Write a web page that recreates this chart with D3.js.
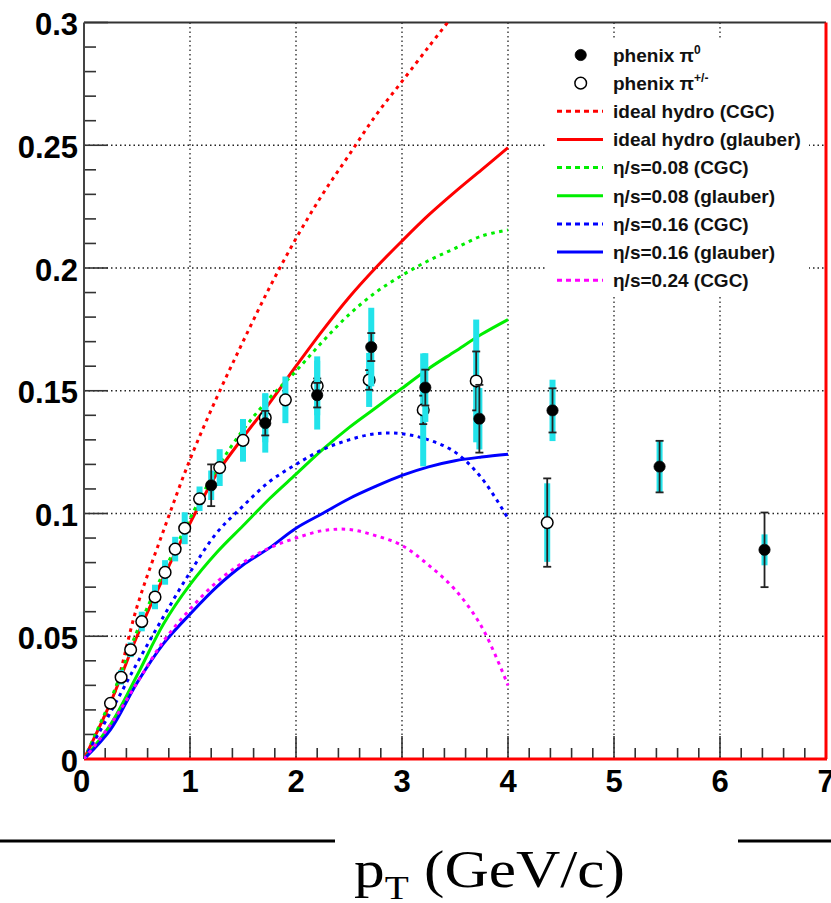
<!DOCTYPE html>
<html>
<head>
<meta charset="utf-8">
<script src="https://cdn.jsdelivr.net/npm/d3@7"></script>
<style>
  html, body { margin: 0; padding: 0; background: #fff; }
  svg { display: block; }
</style>
</head>
<body>
<svg id="chart" width="831" height="903"></svg>
<script>
// ---- model curves: v2 vs pT ----
const ptGrid = [0, 0.25, 0.5, 0.75, 1.0, 1.25, 1.5, 1.75, 2.0, 2.25, 2.5, 2.75, 3.0, 3.25, 3.5, 3.75, 4.0];
const idealCgcPt = [0, 0.25, 0.5, 0.75, 1.0, 1.25, 1.5, 1.75, 2.0, 2.25, 2.5, 2.75, 3.0, 3.25, 3.43];
const idealCgc     = [0, 0.022, 0.062, 0.093, 0.122, 0.147, 0.170, 0.192, 0.212, 0.230, 0.246, 0.262, 0.276, 0.290, 0.300];
const idealGlauber = [0, 0.023, 0.050, 0.074, 0.096, 0.116, 0.131, 0.145, 0.160, 0.1745, 0.188, 0.200, 0.211, 0.2215, 0.231, 0.240, 0.249];
const visc08Cgc    = [0, 0.024, 0.052, 0.076, 0.098, 0.118, 0.134, 0.147, 0.158, 0.170, 0.181, 0.190, 0.197, 0.203, 0.208, 0.213, 0.2155];
const visc08Gla    = [0, 0.014, 0.034, 0.055, 0.071, 0.084, 0.095, 0.106, 0.116, 0.126, 0.135, 0.143, 0.151, 0.159, 0.166, 0.173, 0.179];
const visc16Cgc    = [0, 0.019, 0.039, 0.058, 0.076, 0.092, 0.103, 0.113, 0.120, 0.126, 0.130, 0.1325, 0.1325, 0.130, 0.125, 0.1145, 0.098];
const visc16Gla    = [0, 0.012, 0.031, 0.047, 0.059, 0.070, 0.079, 0.086, 0.094, 0.100, 0.106, 0.111, 0.1155, 0.119, 0.1215, 0.123, 0.1241];
const visc24Cgc    = [0, 0.014, 0.031, 0.048, 0.061, 0.072, 0.080, 0.086, 0.090, 0.093, 0.0935, 0.091, 0.087, 0.079, 0.069, 0.054, 0.030];

// ---- PHENIX pi0 ----
const pi0Pt   = [1.20, 1.71, 2.20, 2.71, 3.22, 3.73, 4.42, 5.43, 6.42];
const pi0V2   = [0.1115, 0.1368, 0.1482, 0.1678, 0.1513, 0.1386, 0.1420, 0.1191, 0.0852];
const pi0Stat = [0.0085, 0.0050, 0.0050, 0.0057, 0.0073, 0.0138, 0.0090, 0.0105, 0.0152];
const pi0Sys  = [0.0060, 0.0120, 0.0140, 0.0160, 0.0140, 0.0125, 0.0125, 0.0105, 0.0063];

// ---- PHENIX pi+/- ----
const pipmPt   = [0.25, 0.35, 0.44, 0.545, 0.67, 0.765, 0.86, 0.95, 1.09, 1.28, 1.50, 1.71, 1.90, 2.20, 2.69, 3.20, 3.70, 4.37];
const pipmV2   = [0.0227, 0.0333, 0.0445, 0.056, 0.066, 0.076, 0.0855, 0.094, 0.106, 0.1187, 0.1298, 0.139, 0.1463, 0.152, 0.1544, 0.1422, 0.154, 0.0963];
const pipmStat = [0.0005, 0.0005, 0.0005, 0.0005, 0.0005, 0.0005, 0.0005, 0.0005, 0.001, 0.001, 0.001, 0.0015, 0.002, 0.003, 0.004, 0.0058, 0.012, 0.018];
const pipmSys  = [0.002, 0.003, 0.003, 0.004, 0.005, 0.005, 0.005, 0.0065, 0.005, 0.0075, 0.0087, 0.010, 0.0095, 0.012, 0.011, 0.023, 0.025, 0.016];

// ---- axis ticks ----
const xTickLabels = ["0", "1", "2", "3", "4", "5", "6", "7"];
const yTickLabels = ["0", "0.05", "0.1", "0.15", "0.2", "0.25", "0.3"];

const legendLabels = [
  {type: "filled", text: "phenix π", sup: "0"},
  {type: "open", text: "phenix π", sup: "+/-"},
  {type: "line", text: "ideal hydro (CGC)", color: "#ff0000", dash: true},
  {type: "line", text: "ideal hydro (glauber)", color: "#ff0000", dash: false},
  {type: "line", text: "η/s=0.08 (CGC)", color: "#00ee00", dash: true},
  {type: "line", text: "η/s=0.08 (glauber)", color: "#00ee00", dash: false},
  {type: "line", text: "η/s=0.16 (CGC)", color: "#0000ff", dash: true},
  {type: "line", text: "η/s=0.16 (glauber)", color: "#0000ff", dash: false},
  {type: "line", text: "η/s=0.24 (CGC)", color: "#ff00ff", dash: true}
];

const curves = [
  {pt: idealCgcPt, v: idealCgc, color: "#ff0000", dash: true},
  {pt: ptGrid, v: idealGlauber, color: "#ff0000", dash: false},
  {pt: ptGrid, v: visc08Cgc, color: "#00ee00", dash: true},
  {pt: ptGrid, v: visc08Gla, color: "#00ee00", dash: false},
  {pt: ptGrid, v: visc16Cgc, color: "#0000ff", dash: true},
  {pt: ptGrid, v: visc16Gla, color: "#0000ff", dash: false},
  {pt: ptGrid, v: visc24Cgc, color: "#ff00ff", dash: true}
];

const svg = d3.select("#chart");
const frameL = 84, frameR = 826, frameT = 22.5, frameB = 759;
const x = d3.scaleLinear().domain([0, 7]).range([frameL, frameR]);
const y = d3.scaleLinear().domain([0, 0.3]).range([frameB, frameT]);

const axisFont = "'Liberation Sans', Arial, Helvetica, sans-serif";

// grid
const grid = svg.append("g").attr("stroke", "#222").attr("stroke-width", 1.3)
  .attr("stroke-dasharray", "1.5,3");
d3.range(1, 7).forEach(t => {
  grid.append("line").attr("x1", x(t)).attr("x2", x(t)).attr("y1", frameT).attr("y2", frameB);
});
[0.05, 0.1, 0.15, 0.2, 0.25].forEach(t => {
  grid.append("line").attr("x1", frameL).attr("x2", frameR).attr("y1", y(t)).attr("y2", y(t));
});

// legend backdrop hides the grid behind it
svg.append("rect").attr("x", 545).attr("y", 40).attr("width", 264).attr("height", 256).attr("fill", "#fff");

// x-axis ticks
const ticks = svg.append("g").attr("stroke", "#333").attr("stroke-width", 1.6);
d3.range(0, 7.001, 0.2).forEach(t => {
  const major = Math.abs(t - Math.round(t)) < 1e-6;
  ticks.append("line").attr("x1", x(t)).attr("x2", x(t))
    .attr("y1", frameB).attr("y2", frameB - (major ? 23 : 11));
});
// y-axis ticks
d3.range(0, 0.3001, 0.01).forEach(t => {
  const major = Math.abs(t / 0.05 - Math.round(t / 0.05)) < 1e-6;
  ticks.append("line").attr("x1", frameL).attr("x2", frameL + (major ? 24 : 12))
    .attr("y1", y(t)).attr("y2", y(t));
});

// frame
svg.append("line").attr("x1", frameL).attr("x2", frameR).attr("y1", frameT).attr("y2", frameT)
  .attr("stroke", "#333").attr("stroke-width", 2);
svg.append("line").attr("x1", frameL).attr("x2", frameL).attr("y1", frameT).attr("y2", frameB)
  .attr("stroke", "#444").attr("stroke-width", 2);
svg.append("line").attr("x1", frameL).attr("x2", frameR + 1).attr("y1", frameB).attr("y2", frameB)
  .attr("stroke", "#ff0000").attr("stroke-width", 3);
svg.append("line").attr("x1", frameR).attr("x2", frameR).attr("y1", frameT).attr("y2", frameB)
  .attr("stroke", "#ff0000").attr("stroke-width", 3);

// tick labels
svg.append("g").selectAll("text").data(xTickLabels).join("text")
  .attr("x", (d, i) => x(i) - (i === 0 ? 2.5 : 0))
  .attr("y", 792)
  .attr("text-anchor", "middle")
  .attr("font-family", axisFont).attr("font-weight", "bold").attr("font-size", 31)
  .text(d => d);
svg.append("g").selectAll("text").data(yTickLabels).join("text")
  .attr("x", 78)
  .attr("y", (d, i) => y(i * 0.05) + 12.5)
  .attr("text-anchor", "end")
  .attr("font-family", axisFont).attr("font-weight", "bold").attr("font-size", 31)
  .text(d => d);

// model curves, clipped to the frame
svg.append("clipPath").attr("id", "plotClip").append("rect")
  .attr("x", frameL).attr("y", frameT).attr("width", frameR - frameL).attr("height", frameB - frameT);
const line = d3.line().curve(d3.curveCatmullRom.alpha(0.5));
const curveG = svg.append("g").attr("clip-path", "url(#plotClip)");
curves.forEach(c => {
  curveG.append("path")
    .attr("d", line(c.pt.map((p, i) => [x(p), y(c.v[i])])))
    .attr("fill", "none")
    .attr("stroke", c.color)
    .attr("stroke-width", 3)
    .attr("stroke-dasharray", c.dash ? "3.5,4.5" : null);
});

// data points
const R = 5.8;
function drawSeries(pt, v, stat, sys, filled) {
  const g = svg.append("g");
  // systematic bands
  pt.forEach((p, i) => {
    g.append("rect")
      .attr("x", x(p) - 3).attr("width", 6)
      .attr("y", y(v[i] + sys[i]))
      .attr("height", y(v[i] - sys[i]) - y(v[i] + sys[i]))
      .attr("fill", "#22e3ea");
  });
  // statistical errors
  pt.forEach((p, i) => {
    const cx = x(p), cy = y(v[i]);
    const yt = y(v[i] + stat[i]), yb = y(v[i] - stat[i]);
    if (cy - yt <= R) return;
    g.append("line").attr("x1", cx).attr("x2", cx).attr("y1", yt).attr("y2", cy - R)
      .attr("stroke", "#222").attr("stroke-width", 1.8);
    g.append("line").attr("x1", cx).attr("x2", cx).attr("y1", cy + R).attr("y2", yb)
      .attr("stroke", "#222").attr("stroke-width", 1.8);
    [yt, yb].forEach(yy => {
      g.append("line").attr("x1", cx - 4).attr("x2", cx + 4).attr("y1", yy).attr("y2", yy)
        .attr("stroke", "#222").attr("stroke-width", 1.8);
    });
  });
  // markers
  pt.forEach((p, i) => {
    g.append("circle").attr("cx", x(p)).attr("cy", y(v[i])).attr("r", filled ? 5.6 : R)
      .attr("fill", filled ? "#000" : "#fff")
      .attr("stroke", "#000").attr("stroke-width", filled ? 0.8 : 1.5);
  });
}
drawSeries(pipmPt, pipmV2, pipmStat, pipmSys, false);
drawSeries(pi0Pt, pi0V2, pi0Stat, pi0Sys, true);

// legend
const lg = svg.append("g");
legendLabels.forEach((d, i) => {
  const yy = 55 + i * 28.15;
  if (d.type === "filled" || d.type === "open") {
    lg.append("circle").attr("cx", 580.7).attr("cy", yy).attr("r", d.type === "filled" ? 5.6 : R)
      .attr("fill", d.type === "filled" ? "#000" : "#fff")
      .attr("stroke", "#000").attr("stroke-width", d.type === "filled" ? 0.8 : 1.5);
  } else {
    lg.append("line").attr("x1", 557).attr("x2", 603).attr("y1", yy).attr("y2", yy)
      .attr("stroke", d.color).attr("stroke-width", 3)
      .attr("stroke-dasharray", d.dash ? "5,4" : null);
  }
  const t = lg.append("text").attr("x", 613).attr("y", yy + 6.8)
    .attr("font-family", axisFont).attr("font-weight", "bold").attr("font-size", 19)
    .attr("fill", "#111")
    .text(d.text);
  if (d.sup) {
    t.append("tspan").attr("dy", -8).attr("font-size", 12).text(d.sup);
  }
});

// x-axis title with side rules
svg.append("line").attr("x1", 0).attr("x2", 335).attr("y1", 841).attr("y2", 841)
  .attr("stroke", "#000").attr("stroke-width", 3);
svg.append("line").attr("x1", 738).attr("x2", 831).attr("y1", 841).attr("y2", 841)
  .attr("stroke", "#000").attr("stroke-width", 3);
const title = svg.append("text")
  .attr("x", 354).attr("y", 887)
  .attr("font-family", "'Liberation Serif', 'Times New Roman', serif")
  .attr("font-size", 53)
  .attr("textLength", 271).attr("lengthAdjust", "spacingAndGlyphs")
  .text("p");
title.append("tspan").attr("dy", 12).attr("font-size", 34).text("T");
title.append("tspan").attr("dy", -12).text(" (GeV/c)");
</script>
</body>
</html>
